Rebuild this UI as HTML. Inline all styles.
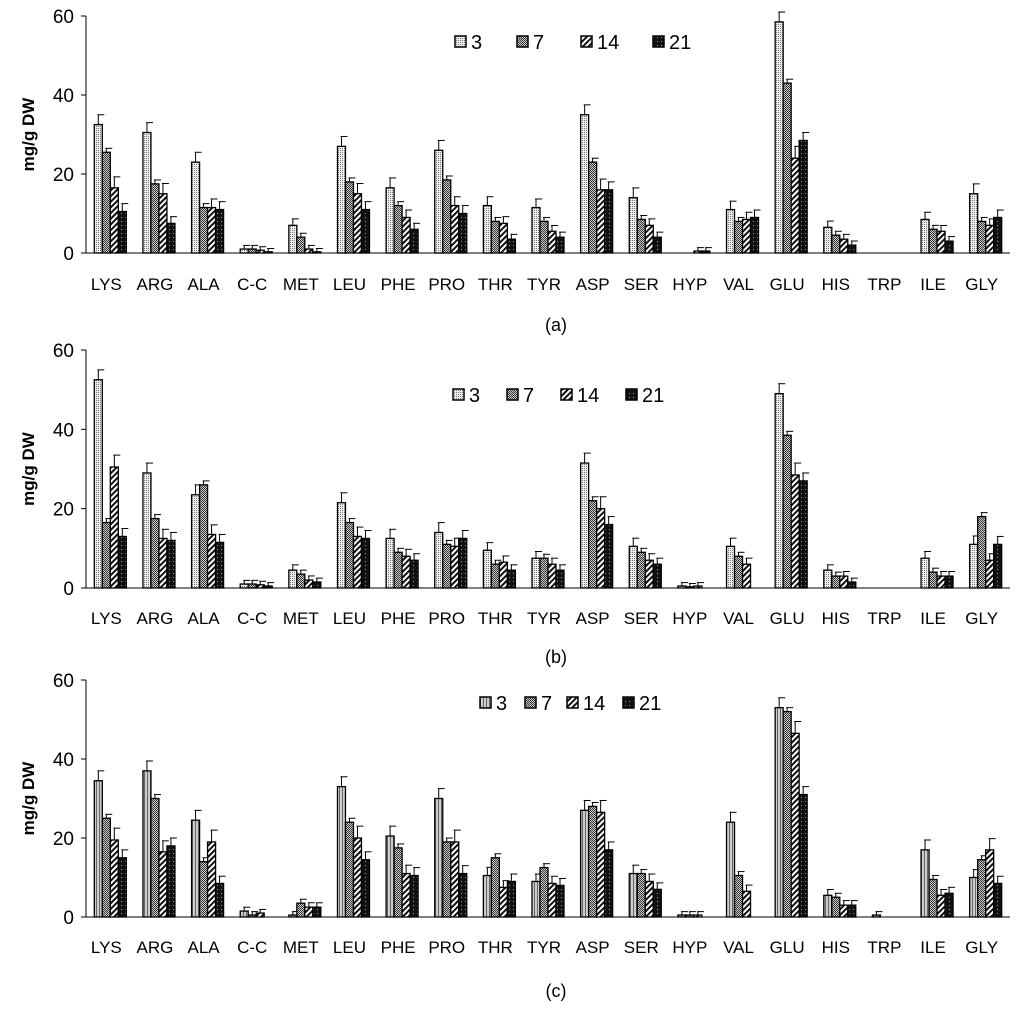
<!DOCTYPE html>
<html><head><meta charset="utf-8"><style>
html,body{margin:0;padding:0;background:#fff}
svg{display:block;font-family:"Liberation Sans",sans-serif}
</style></head><body>
<svg id="chart" width="1024" height="1021" viewBox="0 0 1024 1021" xmlns="http://www.w3.org/2000/svg">
<defs>
<pattern id="p3" width="2" height="2" patternUnits="userSpaceOnUse"><rect width="2" height="2" fill="#eee"/><rect width="1" height="1" fill="#777"/></pattern>
<pattern id="p7" width="2" height="2" patternUnits="userSpaceOnUse"><rect width="2" height="2" fill="#ccc"/><rect width="1" height="1" fill="#333"/><rect x="1" y="1" width="1" height="1" fill="#333"/></pattern>
<pattern id="p14" width="4" height="4" patternUnits="userSpaceOnUse" patternTransform="rotate(45)"><rect width="4" height="4" fill="#fff"/><rect width="2" height="4" fill="#111"/></pattern>
<pattern id="p21" width="4" height="4" patternUnits="userSpaceOnUse"><rect width="4" height="4" fill="#111"/><rect x="1" y="1" width="1" height="1" fill="#999"/></pattern>
<pattern id="pc3" width="3" height="3" patternUnits="userSpaceOnUse"><rect width="3" height="3" fill="#ccc"/><rect width="1" height="3" fill="#666"/></pattern>
</defs>
</svg>
<script>
const categories=["LYS","ARG","ALA","C-C","MET","LEU","PHE","PRO","THR","TYR","ASP","SER","HYP","VAL","GLU","HIS","TRP","ILE","GLY"];
const seriesNames=["3","7","14","21"];
const yTicks=[0,20,40,60];
const panelA=[[32.5,25.5,16.5,10.5],[30.5,17.5,15,7.5],[23,11.5,11.5,11],[1,1,0.7,0.3],[7,4,1,0.3],[27,18,15,11],[16.5,12,9,6],[26,18.5,12,10],[12,8,7.5,3.5],[11.5,8,5.5,4],[35,23,16,16],[14,8.5,7,4],[0,0,0.5,0.5],[11,8,8.5,9],[58.5,43,24,28.5],[6.5,4.5,3.5,2],[0,0,0,0],[8.5,6,5.5,3],[15,8,7,9]];
const panelB=[[52.5,16.5,30.5,13],[29,17.5,12.5,12],[23.5,26,13.5,11.5],[1,1,0.8,0.5],[4.5,3.5,2,1.5],[21.5,16.5,13,12.5],[12.5,9,8,7],[14,11,10.5,12.5],[9.5,6,6.5,4.5],[7.5,7.5,6,4.5],[31.5,22,20,16],[10.5,9,7,6],[0.5,0.3,0.5,0],[10.5,8,6,0],[49,38.5,28.5,27],[4.5,3,3,1.5],[0,0,0,0],[7.5,4,3,3],[11,18,7,11]];
const panelC=[[34.5,25,19.5,15],[37,30,16.5,18],[24.5,14,19,8.5],[1.5,0.5,1,0],[0.5,3.5,2.5,2.5],[33,24,20,14.5],[20.5,17.5,11,10.5],[30,19,19,11],[10.5,15,7.5,9],[9,12.5,8.5,8],[27,28,26.5,17],[11,11,9,7],[0.5,0.5,0.5,0],[24,10.5,6.5,0],[53,52,46.5,31],[5.5,5,3,3],[0.5,0,0,0],[17,9.5,5.5,6],[10,14.5,17,8.5]];
const errA=[2.5,1,3,2];
const svg=document.getElementById('chart');
const NS='http://www.w3.org/2000/svg';
function mk(t,a,p){const e=document.createElementNS(NS,t);for(const k in a)e.setAttribute(k,a[k]);(p||svg).appendChild(e);return e;}
const panels=[
 {id:'a',data:panelA,y0:253,y60:16,cap:'(a)',capY:331,labY:290,legY:42,legX:[455,517,581,653],fills:['p3','p7','p14','p21']},
 {id:'b',data:panelB,y0:588,y60:350,cap:'(b)',capY:663,labY:624,legY:395,legX:[453,507,561,626],fills:['p3','p7','p14','p21']},
 {id:'c',data:panelC,y0:917,y60:680,cap:'(c)',capY:997,labY:953,legY:703,legX:[480,525,567,623],fills:['pc3','p7','p14','p21']}
];
const x0=86,x1=1010,step=(x1-x0)/categories.length,bw=8;
panels.forEach(P=>{
 const g=mk('g',{});
 
 
 const ys=v=>P.y0-(P.y0-P.y60)*v/60;
 mk('line',{x1:x0,y1:P.y60,x2:x0,y2:P.y0,stroke:'#000','stroke-width':1},g);
 mk('line',{x1:x0,y1:P.y0,x2:x1,y2:P.y0,stroke:'#000','stroke-width':1},g);
 yTicks.forEach(t=>{
  mk('line',{x1:x0-5,y1:ys(t),x2:x0,y2:ys(t),stroke:'#000'},g);
  const tx=mk('text',{x:x0-12,y:ys(t)+7,'text-anchor':'end','font-size':19},g);
  tx.textContent=t;
  
  
 });
 const yt=mk('text',{x:0,y:0,transform:`translate(34,${(P.y0+P.y60)/2}) rotate(-90)`,'text-anchor':'middle','font-size':17,'font-weight':'bold'},g);
 yt.textContent='mg/g DW';
 
 
 categories.forEach((c,i)=>{
  const cx=x0+step*(i+0.5);
  const lab=mk('text',{x:cx-4,y:P.labY,'text-anchor':'middle','font-size':17},g);
  lab.textContent=c;
  
  
  P.data[i].forEach((v,s)=>{
   const bx=cx-2*bw+s*bw;
   const y=ys(v);
   if(v>0){
    const r=mk('rect',{x:bx,y:y,width:bw,height:P.y0-y,fill:`url(#${P.fills[s]})`,stroke:'#000','stroke-width':1.3},g);
    
    
    const e=Math.min(errA[s],v*0.12+0.8);
    const ey=ys(v+e);
    mk('line',{x1:bx+bw/2,y1:y,x2:bx+bw/2,y2:ey,stroke:'#000','stroke-width':1},g);
    mk('line',{x1:bx+bw/2-1,y1:ey,x2:bx+bw/2+6,y2:ey,stroke:'#000','stroke-width':1},g);
   }
  });
 });
 seriesNames.forEach((n,s)=>{
  const lx=P.legX[s];
  const b=mk('rect',{x:lx,y:P.legY-6,width:11,height:11,fill:`url(#${P.fills[s]})`,stroke:'#000','stroke-width':1.5},g);
  
  
  const t=mk('text',{x:lx+16,y:P.legY+7,'font-size':20},g);
  t.textContent=n;
  
  
 });
 const cp=mk('text',{x:556,y:P.capY,'text-anchor':'middle','font-size':18},g);
 cp.textContent=P.cap;
 
 
});
</script>
</body></html>
